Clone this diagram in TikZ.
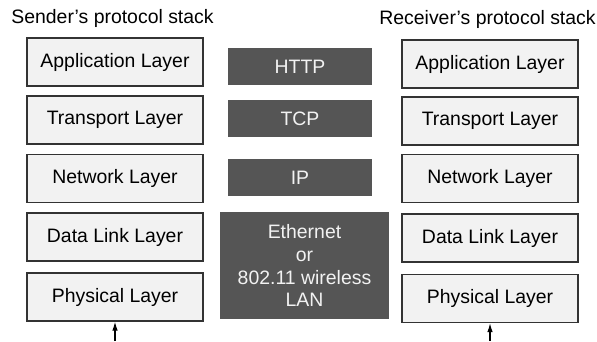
\documentclass[tikz,border=0pt]{standalone}
\usepackage{fontspec}
\setmainfont{Liberation Sans}
\usetikzlibrary{arrows.meta}
\definecolor{boxfill}{HTML}{F2F2F2}
\definecolor{boxline}{HTML}{333333}
\definecolor{protofill}{HTML}{555555}
\tikzset{
  layerbox/.style={draw=boxline, line width=1.2bp, fill=boxfill, minimum width=176bp, minimum height=48bp, inner sep=0pt, font=\fontsize{19.5}{22}\selectfont},
  protobox/.style={fill=protofill, text=boxfill, inner sep=0pt, font=\fontsize{19.5}{23}\selectfont, align=center},
  title/.style={font=\fontsize{19.5}{22}\selectfont}
}
\begin{document}
\begin{tikzpicture}[x=1bp,y=-1bp]
\useasboundingbox (0,0) rectangle (597,341);
% stacks
\foreach \n/\txt/\y in {1/Application Layer/62, 2/Transport Layer/120, 3/Network Layer/178.5, 4/Data Link Layer/237, 5/Physical Layer/297}
  {\node[layerbox] (s\n) at (115,\y) {\txt};}
\foreach \n/\txt/\y in {1/Application Layer/64, 2/Transport Layer/121, 3/Network Layer/178.5, 4/Data Link Layer/238, 5/Physical Layer/298.5}
  {\node[layerbox] (r\n) at (490,\y) {\txt};}
\node[title] (stitle) at (112.5,18) {Sender’s protocol stack};
\node[title] (rtitle) at (487.5,19) {Receiver’s protocol stack};
% protocols
\node[protobox, minimum width=144bp, minimum height=37bp] (http) at (300,66.5) {HTTP};
\node[protobox, minimum width=144bp, minimum height=37bp] (tcp) at (300,118.5) {TCP};
\node[protobox, minimum width=144bp, minimum height=37bp] (ip) at (300,177.5) {IP};
\node[protobox, minimum width=169bp, minimum height=107bp] (eth) at (304.5,265.5) {Ethernet\\or\\802.11 wireless\\LAN};
% signal in
\coordinate (sin) at (115,341);
\coordinate (rin) at (490,341);
\draw[line width=1.2bp, -{Latex[length=9bp,width=5.5bp]}] (sin) -- (s5);
\draw[line width=1.2bp, -{Latex[length=9bp,width=5.5bp]}] (rin) -- (r5);
\end{tikzpicture}
\end{document}
